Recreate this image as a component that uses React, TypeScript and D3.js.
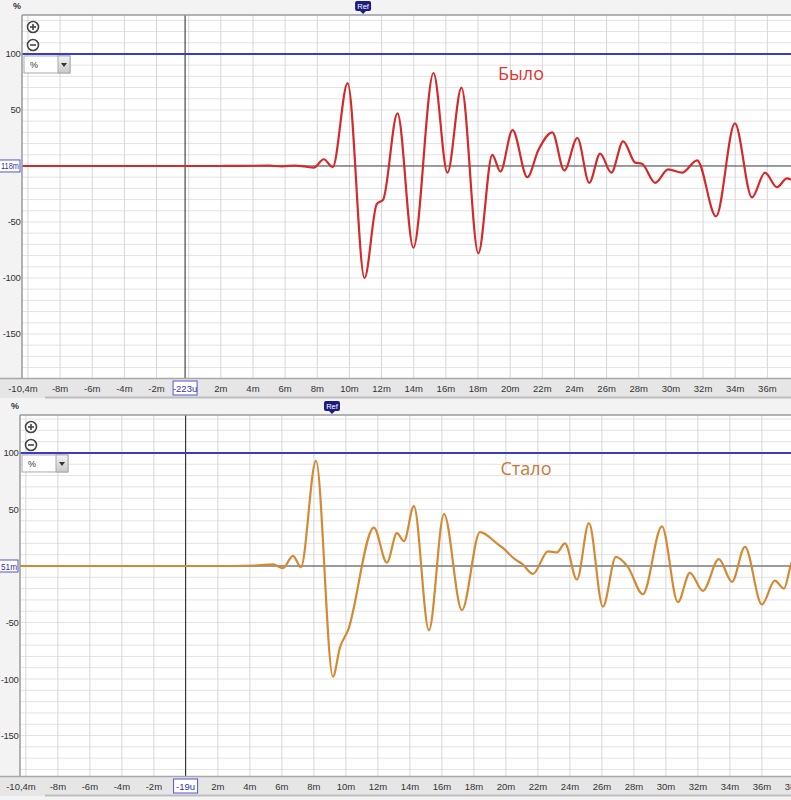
import React from 'react';
import * as d3 from 'd3';

// ---- data ----
const X_TICKS_MS = [-8, -6, -4, -2, 2, 4, 6, 8, 10, 12, 14, 16, 18, 20, 22, 24, 26, 28, 30, 32, 34, 36, 38];
const Y_TICKS = [100, 50, -50, -100, -150];

const BEFORE_T = [-10.4, 2, 5.0, 5.8, 6.6, 7.2, 7.78, 8.4, 8.96, 9.89, 10.94, 11.7, 12.1, 12.99, 13.98, 15.23, 16.1, 16.97, 18.02, 18.89, 19.39, 20.15, 21.07, 21.75, 22.62, 23.37, 24.18, 24.92, 25.6, 26.29, 27.03, 27.78, 28.2, 29.02, 29.83, 30.7, 31.63, 32.81, 33.98, 35.04, 35.85, 36.6, 37.22, 37.47, 38];
const BEFORE_V = [0, 0, 0.3, -0.3, 0.4, -0.4, -1.5, 6, -1, 74, -100, -34, -30, 47, -73, 83, -6, 70, -78, 10, -5, 32, -10, 14, 30, -4, 25, -15, 11, -6, 22, 3, 2, -15, -3, -6, 5, -45, 38, -28, -6, -19, -11, -12, -14];

const AFTER_T = [-10.4, 3, 4.5, 5.44, 6.06, 6.69, 7.19, 8.13, 9.19, 9.63, 10.13, 11.75, 12.56, 13.19, 13.63, 14.25, 15.19, 16.13, 17.25, 18.38, 19.44, 19.81, 20.56, 21.0, 21.69, 22.63, 23.19, 23.69, 24.44, 25.19, 26.06, 26.88, 27.63, 28.56, 29.75, 30.75, 31.5, 32.31, 33.31, 34.13, 34.94, 36.0, 36.81, 37.38, 37.81, 38];
const AFTER_V = [0, 0, 0.5, 1.5, -2, 9, -1, 93, -98, -72, -57, 34, 3, 29, 22, 53, -57, 46, -39, 30, 20, 16, 6, 2, -7, 13, 12, 20, -12, 38, -36, 8, -1, -25, 35, -32, -6, -22, 6, -14, 17, -34, -13, -20, 1, 8];

const REF_BEFORE = 10.85;
const REF_AFTER = 9.13;
const CURSOR_BEFORE = -0.223;
const CURSOR_AFTER = -0.019;

type PanelProps = {
  top: number; left: number; plotTop: number; plotBottom: number;
  xRange: [number, number]; yDomain: [number, number];
  times: number[]; values: number[]; color: string;
  title: string; titleX: number; titleY: number; titleColor: string;
  refT: number; cursorT: number; cursorLabel: string; zeroLabel: string;
};

const W = 791;

function Panel(p: PanelProps) {
  const x = d3.scaleLinear().domain([-10.4, 38]).range(p.xRange);
  const y = d3.scaleLinear().domain(p.yDomain).range([p.plotBottom, p.plotTop]);
  const pts = p.times.map((t, i) => [t, p.values[i]] as [number, number]);
  const line = d3.line<[number, number]>().x(d => x(d[0])).y(d => y(d[1])).curve(d3.curveMonotoneX);
  const clipId = 'clip' + p.top;
  const vGrid = d3.range(-10, 39, 2);
  const hGrid = d3.range(-180, 140, 10);
  const refX = x(p.refT);
  const curX = x(p.cursorT);
  const y0 = y(0);
  const visibleTicks = X_TICKS_MS.filter(t => x(t) < W + 4);
  return (
    <g>
      <defs>
        <clipPath id={clipId}>
          <rect x={p.left} y={p.plotTop} width={W - p.left} height={p.plotBottom - p.plotTop} />
        </clipPath>
        <linearGradient id={'btn' + p.top} x1="0" y1="0" x2="0" y2="1">
          <stop offset="0" stopColor="#f4f4f4" />
          <stop offset="1" stopColor="#c8c8c8" />
        </linearGradient>
      </defs>
      {/* % label */}
      <text x={p.left - 9} y={p.plotTop - 6} fontSize={9} fontFamily="Liberation Sans, Arial" fill="#333" fontWeight="bold">%</text>
      {/* plot background */}
      <rect x={p.left} y={p.plotTop} width={W - p.left} height={p.plotBottom - p.plotTop} fill="#fff" />
      <g clipPath={`url(#${clipId})`}>
        {hGrid.map(v => (
          <line key={'h' + v} x1={p.left} x2={W} y1={y(v)} y2={y(v)} stroke="#e3e3e3" strokeWidth={1} />
        ))}
        {vGrid.map(t => (
          <line key={'v' + t} x1={x(t)} x2={x(t)} y1={p.plotTop} y2={p.plotBottom} stroke="#d6d6d6" strokeWidth={1} />
        ))}
        <line x1={p.left} x2={W} y1={y0} y2={y0} stroke="#444" strokeWidth={1} />
        <line x1={curX} x2={curX} y1={p.plotTop} y2={p.plotBottom} stroke="#222" strokeWidth={1} />
        <line x1={p.left} x2={W} y1={y(100)} y2={y(100)} stroke="#3b3bc8" strokeWidth={2} />
        <path d={line(pts) || ''} fill="none" stroke={p.color} strokeWidth={2.2} strokeLinejoin="round" />
      </g>
      {/* plot border */}
      <line x1={p.left} x2={p.left} y1={p.plotTop} y2={p.plotBottom} stroke="#9a9a9a" strokeWidth={1.5} />
      <line x1={p.left} x2={W} y1={p.plotTop} y2={p.plotTop} stroke="#9a9a9a" strokeWidth={1.5} />
      {/* zoom icons */}
      {[0, 1].map(i => {
        const cx = p.left + 11, cy = p.plotTop + 12 + i * 18;
        return (
          <g key={'z' + i}>
            <circle cx={cx} cy={cy} r={5.5} fill="#fff" stroke="#444" strokeWidth={1.6} />
            <line x1={cx - 3} x2={cx + 3} y1={cy} y2={cy} stroke="#444" strokeWidth={1.6} />
            {i === 0 && <line x1={cx} x2={cx} y1={cy - 3} y2={cy + 3} stroke="#444" strokeWidth={1.6} />}
          </g>
        );
      })}
      {/* dropdown */}
      <g>
        <rect x={p.left + 2} y={y(100) + 2} width={46} height={17} fill="#fff" stroke="#aaa" />
        <rect x={p.left + 36} y={y(100) + 2} width={12} height={17} fill={`url(#btn${p.top})`} stroke="#aaa" />
        <path d={`M${p.left + 39},${y(100) + 9} l6,0 l-3,4 z`} fill="#333" />
        <text x={p.left + 8} y={y(100) + 14.5} fontSize={9} fontFamily="Liberation Sans, Arial" fill="#333">%</text>
      </g>
      {/* y labels */}
      {Y_TICKS.map(v => (
        <text key={'yl' + v} x={p.left - 1.5} y={y(v) + 3.5} fontSize={9.5} letterSpacing={-0.3} textAnchor="end" fontFamily="Liberation Sans, Arial" fill="#333">{v}</text>
      ))}
      <rect x={-2} y={y0 - 6} width={p.left} height={12} fill="#fff" stroke="#5555cc" strokeWidth={1} />
      <text x={1} y={y0 + 3.5} fontSize={9} textLength={p.left - 4} lengthAdjust="spacingAndGlyphs" fontFamily="Liberation Sans, Arial" fill="#3333aa">{p.zeroLabel}</text>
      {/* x axis strip */}
      <rect x={0} y={p.plotBottom} width={W} height={20} fill="#e6e6e6" />
      <line x1={0} x2={W} y1={p.plotBottom + 0.5} y2={p.plotBottom + 0.5} stroke="#a8a8a8" strokeWidth={1.5} />
      <line x1={45} x2={W} y1={p.plotBottom + 19.5} y2={p.plotBottom + 19.5} stroke="#bdbdbd" strokeWidth={2} />
      <text x={x(-10.4) + 1.5} y={p.plotBottom + 14} fontSize={9.5} textAnchor="middle" fontFamily="Liberation Sans, Arial" fill="#333">-10,4m</text>
      {visibleTicks.map(t => (
        <text key={'xl' + t} x={x(t)} y={p.plotBottom + 14} fontSize={9.5} textAnchor="middle" fontFamily="Liberation Sans, Arial" fill="#333">{t}m</text>
      ))}
      <rect x={curX - 12} y={p.plotBottom + 3} width={24} height={14} fill="#fff" stroke="#5555cc" strokeWidth={1} />
      <text x={curX} y={p.plotBottom + 14} fontSize={9.5} textAnchor="middle" fontFamily="Liberation Sans, Arial" fill="#3333aa">{p.cursorLabel}</text>
      {/* Ref marker */}
      <g>
        <rect x={refX - 8} y={p.plotTop - 14} width={16} height={10} rx={2} fill="#1c1c80" />
        <path d={`M${refX - 4},${p.plotTop - 5} L${refX + 4},${p.plotTop - 5} L${refX},${p.plotTop - 1} Z`} fill="#1c1c80" />
        <text x={refX} y={p.plotTop - 6.5} fontSize={7.5} textAnchor="middle" fontFamily="Liberation Sans, Arial" fill="#fff">Ref</text>
      </g>
      {/* title */}
      <text x={p.titleX} y={p.titleY} fontSize={18} textAnchor="middle" fontFamily="Open Sans, Noto Sans, sans-serif" fill={p.titleColor}>{p.title}</text>
    </g>
  );
}

export default function App() {
  return (
    <svg width={791} height={800} viewBox="0 0 791 800" style={{ position: 'absolute', left: 0, top: 0, display: 'block' }}>
      <rect x={0} y={0} width={791} height={800} fill="#f3f3f3" />
      <Panel top={0} left={22} plotTop={15} plotBottom={378} xRange={[21.5, 799.5]} yDomain={[-189.3, 134.8]}
        times={BEFORE_T} values={BEFORE_V} color="#d42a2a" title="Было" titleX={521} titleY={80} titleColor="#e03535"
        refT={REF_BEFORE} cursorT={CURSOR_BEFORE} cursorLabel="-223u" zeroLabel="118m" />
      <Panel top={400} left={20} plotTop={415} plotBottom={776} xRange={[19.5, 793.9]} yDomain={[-185.8, 133.6]}
        times={AFTER_T} values={AFTER_V} color="#d48a35" title="Стало" titleX={526} titleY={475} titleColor="#c8793a"
        refT={REF_AFTER} cursorT={CURSOR_AFTER} cursorLabel="-19u" zeroLabel="51m" />
    </svg>
  );
}
